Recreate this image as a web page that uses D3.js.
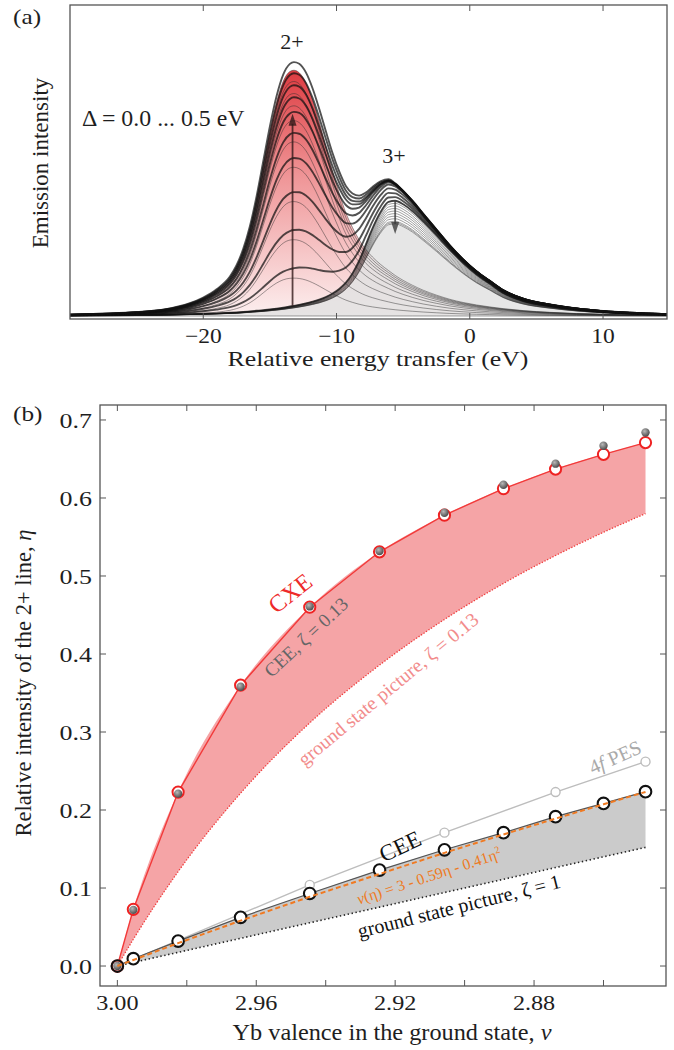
<!doctype html>
<html>
<head>
<meta charset="utf-8">
<title>Yb 2+/3+ emission</title>
<script src="https://d3js.org/d3.v7.min.js"></script>
<style>
  body { margin: 0; background: #fff; }
</style>
</head>
<body>
<svg id="chart"></svg>
<script>
// ---- panel (a): line profiles (eV, peak = 1)
var energy = [-30, -27, -25, -23, -21, -20, -19, -18, -17.5, -17, -16.5, -16, -15.5, -15, -14.5, -14,
  -13.5, -13.2, -12.8, -12.3, -11.8, -11.3, -10.8, -10.3, -9.8, -9.3, -8.8, -8.3, -7.8, -7.3, -6.7, -6.1,
  -5.6, -5, -4.3, -3.5, -2.5, -1.5, -0.5, 0.5, 1.5, 2.5, 4, 6, 8, 10, 12, 15];
var profile2 = [0.004, 0.008, 0.013, 0.022, 0.046, 0.068, 0.1, 0.15, 0.195, 0.26, 0.35, 0.47, 0.61, 0.75, 0.87, 0.955,
  0.995, 1.0, 0.99, 0.95, 0.88, 0.79, 0.69, 0.59, 0.50, 0.42, 0.36, 0.31, 0.27, 0.24, 0.21, 0.185,
  0.165, 0.145, 0.125, 0.105, 0.085, 0.068, 0.055, 0.045, 0.037, 0.03, 0.022, 0.015, 0.01, 0.007, 0.005, 0.003];
var profile3 = [0.004, 0.006, 0.008, 0.011, 0.016, 0.019, 0.023, 0.028, 0.031, 0.035, 0.04, 0.045, 0.05, 0.057, 0.064, 0.072,
  0.082, 0.088, 0.097, 0.11, 0.125, 0.142, 0.165, 0.195, 0.235, 0.29, 0.37, 0.48, 0.62, 0.76, 0.9, 0.99,
  1.0, 0.97, 0.91, 0.82, 0.7, 0.575, 0.46, 0.36, 0.28, 0.2, 0.13, 0.085, 0.055, 0.035, 0.022, 0.01];
// peak heights of the 2+ and 3+ lines, Δ = 0.0 ... 0.5 eV
var amp2 = [0, 0.148, 0.298, 0.447, 0.581, 0.68, 0.763, 0.821, 0.869, 0.916, 0.96];
var amp3 = [0.45, 0.44, 0.43, 0.42, 0.41, 0.40, 0.39, 0.38, 0.37, 0.365, 0.36];
var xTicksA = [-20, -10, 0, 10];

// ---- panel (b)
var valence = [3.000, 2.9954, 2.9825, 2.9645, 2.9446, 2.9245, 2.9058, 2.8888, 2.8738, 2.8600, 2.8479];
var etaCXE = [0, 0.0727, 0.223, 0.360, 0.460, 0.531, 0.578, 0.612, 0.637, 0.656, 0.671];
var etaCEE013 = [0, 0.072, 0.221, 0.358, 0.461, 0.532, 0.581, 0.617, 0.644, 0.667, 0.684];
var etaCEE = [0, 0.0094, 0.032, 0.0624, 0.093, 0.123, 0.149, 0.171, 0.1915, 0.2085, 0.2235];
var etaFit = [0, 0.0078, 0.0293, 0.0582, 0.0888, 0.118, 0.1451, 0.1687, 0.189, 0.2073, 0.2232];
var etaGS013 = [0, 0.0343, 0.121, 0.2216, 0.3117, 0.3858, 0.4443, 0.4905, 0.5263, 0.556, 0.580];
var etaGS1 = [0, 0.0046, 0.0175, 0.0355, 0.0554, 0.0755, 0.0942, 0.1112, 0.1262, 0.140, 0.1521];
var valencePES = [3.000, 2.9446, 2.9058, 2.8738, 2.8479];
var etaPES = [0, 0.104, 0.171, 0.223, 0.262];
var xTicksB = [3.00, 2.98, 2.96, 2.94, 2.92, 2.90, 2.88, 2.86];
var xLabelsB = [3.00, 2.96, 2.92, 2.88];
var yTicksB = [0, 0.1, 0.2, 0.3, 0.4, 0.5, 0.6, 0.7];

var W = 674, H = 1050;
var FONT = '"Liberation Serif", "DejaVu Serif", serif';
var svg = d3.select('#chart').attr('width', W).attr('height', H)
  .attr('font-family', FONT);
var defs = svg.append('defs');

// helper: every label in the serif face; sx widens the glyphs a little
// (the reference type is slightly stretched horizontally)
function label(x, y, size, txt, anchor, sx) {
  return svg.append('text')
    .attr('transform', 'translate(' + x + ',' + y + ') scale(' + (sx || 1) + ',1)')
    .attr('text-anchor', anchor || 'start')
    .style('font-family', FONT).style('font-size', size + 'px').style('fill', '#1e1e1e')
    .text(txt);
}
var minus = function(t) { return t < 0 ? '\u2212' + Math.abs(t) : String(t); };

// ================= panel (a) =================
var ax = d3.scaleLinear().domain([-30, 14.8]).range([70, 667]);
var ay = d3.scaleLinear().domain([0, 1]).range([316, 60]);

var grad = defs.append('linearGradient').attr('id', 'redfade')
  .attr('gradientUnits', 'userSpaceOnUse')
  .attr('x1', 0).attr('x2', 0).attr('y1', ay(1)).attr('y2', ay(0));
grad.append('stop').attr('offset', 0).attr('stop-color', '#dc3238');
grad.append('stop').attr('offset', 0.45).attr('stop-color', '#ef9496');
grad.append('stop').attr('offset', 1).attr('stop-color', '#fcefef');

defs.append('clipPath').attr('id', 'clipA').append('rect')
  .attr('x', 70).attr('y', 5).attr('width', 597).attr('height', 314);

var gA = svg.append('g').attr('clip-path', 'url(#clipA)');

function comp(amp, prof) {
  return energy.map(function(e, k) { return [e, amp * prof[k]]; });
}
function total(i) {
  return energy.map(function(e, k) { return [e, amp2[i] * profile2[k] + amp3[i] * profile3[k]]; });
}

var lineA = d3.line().x(function(d) { return ax(d[0]); }).y(function(d) { return ay(d[1]); })
  .curve(d3.curveMonotoneX);
var areaA = d3.area().x(function(d) { return ax(d[0]); }).y0(ay(0)).y1(function(d) { return ay(d[1]); })
  .curve(d3.curveMonotoneX);

var last = amp2.length - 1;
gA.append('path').datum(comp(amp2[last], profile2))
  .attr('d', areaA).attr('fill', 'url(#redfade)');
gA.append('path').datum(comp(amp3[last], profile3))
  .attr('d', areaA).attr('fill', '#e2e2e2').attr('fill-opacity', 0.85);

// thin component lines
amp2.forEach(function(a, i) {
  gA.append('path').datum(comp(a, profile2)).attr('d', lineA)
    .attr('fill', 'none').attr('stroke', '#2a2a2a').attr('stroke-opacity', 0.5).attr('stroke-width', 0.9);
  gA.append('path').datum(comp(amp3[i], profile3)).attr('d', lineA)
    .attr('fill', 'none').attr('stroke', '#2a2a2a').attr('stroke-opacity', 0.5).attr('stroke-width', 0.9);
});
// thick total spectra
amp2.forEach(function(a, i) {
  gA.append('path').datum(total(i)).attr('d', lineA)
    .attr('fill', 'none').attr('stroke', '#111').attr('stroke-opacity', 0.72).attr('stroke-width', 1.9);
});

// arrows
function arrow(g, x, yFrom, yTo, col) {
  var dir = yTo < yFrom ? 1 : -1;
  g.append('line').attr('x1', x).attr('x2', x).attr('y1', yFrom).attr('y2', yTo + dir * 10)
    .attr('stroke', col).attr('stroke-width', 1.8);
  g.append('path')
    .attr('d', 'M' + (x - 4) + ',' + (yTo + dir * 12) + 'L' + (x + 4) + ',' + (yTo + dir * 12) + 'L' + x + ',' + yTo + 'Z')
    .attr('fill', col);
}
arrow(gA, ax(-13.3), ay(0.04), ay(0.79), 'rgba(50,25,25,0.8)');
arrow(gA, ax(-5.6), ay(0.45), ay(0.32), 'rgba(60,60,60,0.8)');

// frame and ticks
svg.append('rect').attr('x', 70).attr('y', 5).attr('width', 597).attr('height', 314)
  .attr('fill', 'none').attr('stroke', '#555').attr('stroke-width', 1.3);
xTicksA.forEach(function(t) {
  svg.append('line').attr('x1', ax(t)).attr('x2', ax(t)).attr('y1', 319).attr('y2', 313).attr('stroke', '#555');
  svg.append('line').attr('x1', ax(t)).attr('x2', ax(t)).attr('y1', 5).attr('y2', 11).attr('stroke', '#555');
  label(ax(t), 343, 21, minus(t), 'middle', 1.12);
});

label(13, 24, 22, '(a)', 'start', 1.15);
label(0, 0, 23, 'Emission intensity', 'middle').attr('transform', 'translate(48,163) rotate(-90)');
label(378, 366, 21.5, 'Relative energy transfer (eV)', 'middle', 1.2);
label(82, 126, 22.5, 'Δ = 0.0 ... 0.5 eV', 'start', 1.06);
label(292, 49, 22, '2+', 'middle');
label(394, 163, 22, '3+', 'middle');

// ================= panel (b) =================
var bx = d3.scaleLinear().domain([3.005, 2.842]).range([100, 666]);
var by = d3.scaleLinear().domain([-0.0256, 0.7192]).range([986, 405]);

function pts(vals) { return valence.map(function(v, k) { return [v, vals[k]]; }); }
var lineB = d3.line().x(function(d) { return bx(d[0]); }).y(function(d) { return by(d[1]); });
var smoothB = d3.line().x(function(d) { return bx(d[0]); }).y(function(d) { return by(d[1]); })
  .curve(d3.curveMonotoneX);
function band(top, bottom) {
  return d3.area().x(function(d, k) { return bx(valence[k]); })
    .y1(function(d, k) { return by(top[k]); }).y0(function(d, k) { return by(bottom[k]); })
    .curve(d3.curveMonotoneX)(valence);
}

var gB = svg.append('g');
gB.append('path').attr('d', band(etaCXE, etaGS013)).attr('fill', '#f5a4a6');
gB.append('path').attr('d', band(etaCEE, etaGS1)).attr('fill', '#cbcbcb');

gB.append('path').datum(pts(etaGS013)).attr('d', smoothB).attr('fill', 'none')
  .attr('stroke', '#f03a3a').attr('stroke-width', 1.3).attr('stroke-dasharray', '1.3,1.7');
gB.append('path').datum(pts(etaGS1)).attr('d', lineB).attr('fill', 'none')
  .attr('stroke', '#222').attr('stroke-width', 1.6).attr('stroke-dasharray', '1.4,2.6');

// 4f PES
var pes = valencePES.map(function(v, k) { return [v, etaPES[k]]; });
gB.append('path').datum(pes).attr('d', lineB).attr('fill', 'none')
  .attr('stroke', '#bdbdbd').attr('stroke-width', 1.4);
gB.selectAll('circle.pes').data(pes.slice(1)).enter().append('circle')
  .attr('cx', function(d) { return bx(d[0]); }).attr('cy', function(d) { return by(d[1]); })
  .attr('r', 4.5).attr('fill', '#fff').attr('stroke', '#bdbdbd').attr('stroke-width', 1.4);

// CEE line
gB.append('path').datum(pts(etaCEE)).attr('d', lineB).attr('fill', 'none')
  .attr('stroke', '#555').attr('stroke-width', 1.2);
// CXE line
gB.append('path').datum(pts(etaCXE)).attr('d', lineB).attr('fill', 'none')
  .attr('stroke', '#f23a3a').attr('stroke-width', 1.4);

// markers
gB.selectAll('circle.cxe').data(pts(etaCXE)).enter().append('circle')
  .attr('cx', function(d) { return bx(d[0]); }).attr('cy', function(d) { return by(d[1]); })
  .attr('r', 5.6).attr('fill', '#fff').attr('stroke', '#ee2222').attr('stroke-width', 2);

var rg = defs.append('radialGradient').attr('id', 'ball').attr('cx', '38%').attr('cy', '35%').attr('r', '65%');
rg.append('stop').attr('offset', 0).attr('stop-color', '#b8b8b8');
rg.append('stop').attr('offset', 1).attr('stop-color', '#4e4e4e');
gB.selectAll('circle.cee13').data(pts(etaCEE013)).enter().append('circle')
  .attr('cx', function(d) { return bx(d[0]); }).attr('cy', function(d) { return by(d[1]); })
  .attr('r', 4.2).attr('fill', 'url(#ball)');

gB.selectAll('circle.cee').data(pts(etaCEE)).enter().append('circle')
  .attr('cx', function(d) { return bx(d[0]); }).attr('cy', function(d) { return by(d[1]); })
  .attr('r', 5.8).attr('fill', function(d, k) { return k === 0 ? 'none' : '#fff'; })
  .attr('stroke', '#111').attr('stroke-width', 2.1);

// fit
gB.append('path').datum(pts(etaFit)).attr('d', lineB).attr('fill', 'none')
  .attr('stroke', '#f07a22').attr('stroke-width', 2).attr('stroke-dasharray', '5,3');

// frame and ticks
svg.append('rect').attr('x', 100).attr('y', 405).attr('width', 566).attr('height', 581)
  .attr('fill', 'none').attr('stroke', '#555').attr('stroke-width', 1.3);
xTicksB.forEach(function(t) {
  svg.append('line').attr('x1', bx(t)).attr('x2', bx(t)).attr('y1', 986).attr('y2', 980).attr('stroke', '#555');
  svg.append('line').attr('x1', bx(t)).attr('x2', bx(t)).attr('y1', 405).attr('y2', 411).attr('stroke', '#555');
});
xLabelsB.forEach(function(t) {
  label(bx(t), 1010, 22, t.toFixed(2), 'middle', 1.1);
});
yTicksB.forEach(function(t) {
  svg.append('line').attr('x1', 100).attr('x2', 106).attr('y1', by(t)).attr('y2', by(t)).attr('stroke', '#555');
  svg.append('line').attr('x1', 666).attr('x2', 660).attr('y1', by(t)).attr('y2', by(t)).attr('stroke', '#555');
  label(92, by(t) + 8, 22, t.toFixed(1), 'end', 1.18);
});

label(13, 421, 22, '(b)', 'start', 1.15);
var yl = label(0, 0, 22.5, '', 'middle').attr('transform', 'translate(31,683) rotate(-90)');
yl.append('tspan').text('Relative intensity of the 2+ line, ');
yl.append('tspan').style('font-style', 'italic').text('η');
var xl = label(392, 1040, 22.5, '', 'middle', 1.08);
xl.append('tspan').text('Yb valence in the ground state, ');
xl.append('tspan').style('font-style', 'italic').text('ν');

function note(x, y, rot, size, col, txt) {
  return label(0, 0, size, txt, 'middle')
    .attr('transform', 'translate(' + x + ',' + y + ') rotate(' + rot + ')')
    .attr('dy', '0.35em').style('fill', col);
}
note(290, 593, -38, 24, '#ee2a2a', 'CXE');
note(306, 637, -43, 19, '#666', 'CEE, ζ = 0.13');
note(388, 689, -39.6, 19.5, '#f28c8c', 'ground state picture, ζ = 0.13');
note(400, 846, -25, 23, '#111', 'CEE');
note(459, 906, -14, 20, '#111', 'ground state picture, ζ = 1');
var pesLabel = note(615, 757, -24, 20, '#aaa', '');
pesLabel.append('tspan').text('4');
pesLabel.append('tspan').style('font-style', 'italic').text('f');
pesLabel.append('tspan').text(' PES');
var fit = note(429, 876, -18, 15.5, '#ee7a22', '');
fit.append('tspan').style('font-style', 'italic').text('ν');
fit.append('tspan').text('(η) = 3 - 0.59η - 0.41η');
fit.append('tspan').attr('dy', '-6').style('font-size', '10px').text('2');
</script>
</body>
</html>
